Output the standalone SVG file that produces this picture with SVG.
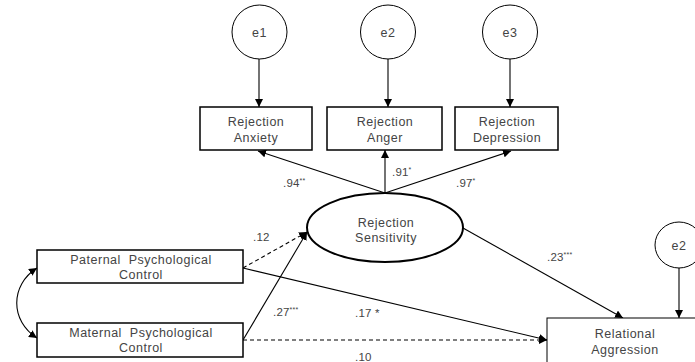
<svg xmlns="http://www.w3.org/2000/svg" width="695" height="362" viewBox="0 0 695 362">
<style>
.t{font-family:"Liberation Sans",Arial,sans-serif;font-size:12.5px;letter-spacing:0.5px;fill:#444;text-anchor:middle}
.l{font-family:"Liberation Sans",Arial,sans-serif;font-size:11.5px;letter-spacing:0.2px;fill:#444}
.s{font-size:7px}
.box{fill:#fff;stroke:#000;stroke-width:1.5}
.c{fill:#fff;stroke:#000;stroke-width:1}
.a{fill:none;stroke:#000;stroke-width:1.1;marker-end:url(#ah)}
.d{stroke-dasharray:4 3}
</style>
<defs>
<marker id="ah" viewBox="0 0 10 10" refX="10" refY="5" markerWidth="8" markerHeight="8" markerUnits="userSpaceOnUse" orient="auto-start-reverse">
<path d="M0,0 L10,5 L0,10 z" fill="#000"/>
</marker>
</defs>
<g id="connectors">
<line class="a" x1="259" y1="59" x2="259" y2="107"/>
<line class="a" x1="388" y1="59" x2="388" y2="107"/>
<line class="a" x1="510" y1="59" x2="510" y2="107"/>
<line class="a" x1="385" y1="193" x2="258" y2="151"/>
<line class="a" x1="385" y1="193" x2="385" y2="150"/>
<line class="a" x1="385" y1="193" x2="511" y2="151"/>
<line class="a" x1="463" y1="228" x2="623" y2="318"/>
<line class="a" x1="679" y1="268" x2="679" y2="318"/>
<line class="a d" x1="243" y1="268" x2="307" y2="232"/>
<line class="a" x1="243" y1="340" x2="307" y2="232"/>
<line class="a" x1="243" y1="268" x2="547" y2="340"/>
<line class="a d" x1="243" y1="340" x2="547" y2="340"/>
<path class="a" style="marker-start:url(#ah)" d="M37,268 C10,285 10,321 37,338"/>
</g>
<g id="e1"><ellipse class="c" cx="259.5" cy="32" rx="27.5" ry="27"/><text class="t" x="259.5" y="37">e1</text></g>
<g id="e2"><ellipse class="c" cx="388" cy="32" rx="27.5" ry="27"/><text class="t" x="388" y="37">e2</text></g>
<g id="e3"><ellipse class="c" cx="510" cy="32" rx="27.5" ry="27"/><text class="t" x="510" y="37">e3</text></g>
<g id="anxiety"><rect class="box" x="200" y="107" width="112" height="43"/><text class="t" x="256" y="126">Rejection</text><text class="t" x="256" y="142">Anxiety</text></g>
<g id="anger"><rect class="box" x="327" y="107" width="115" height="43"/><text class="t" x="385" y="126">Rejection</text><text class="t" x="385" y="142">Anger</text></g>
<g id="depression"><rect class="box" x="455" y="107" width="103" height="43"/><text class="t" x="507" y="126">Rejection</text><text class="t" x="507" y="142">Depression</text></g>
<g id="sensitivity"><ellipse cx="385" cy="227.5" rx="78" ry="34.5" fill="#fff" stroke="#000" stroke-width="2"/><text class="t" x="386" y="227">Rejection</text><text class="t" x="386" y="242">Sensitivity</text></g>
<g id="paternal"><rect class="box" x="37" y="250" width="206" height="33" stroke-width="1.2"/><text class="t" x="141" y="264" xml:space="preserve">Paternal  Psychological</text><text class="t" x="141" y="279">Control</text></g>
<g id="maternal"><rect class="box" x="37" y="323" width="206" height="34" stroke-width="1.2"/><text class="t" x="141" y="337" xml:space="preserve">Maternal  Psychological</text><text class="t" x="141" y="352">Control</text></g>
<g id="aggression"><rect x="547" y="318" width="160" height="45" fill="#fff" stroke="#000" stroke-width="1"/><text class="t" x="625" y="338">Relational</text><text class="t" x="625" y="354">Aggression</text></g>
<g id="e2b"><ellipse class="c" cx="679" cy="245" rx="24" ry="23"/><text class="t" x="679" y="250">e2</text></g>
<g id="labels">
<text class="l" x="283" y="187">.94<tspan class="s" dy="-4">**</tspan></text>
<text class="l" x="392" y="176">.91<tspan class="s" dy="-4">*</tspan></text>
<text class="l" x="456" y="187">.97<tspan class="s" dy="-4">*</tspan></text>
<text class="l" x="253" y="241">.12</text>
<text class="l" x="547" y="261">.23<tspan class="s" dy="-4">***</tspan></text>
<text class="l" x="273" y="316">.27<tspan class="s" dy="-4">***</tspan></text>
<text class="l" x="355" y="317" xml:space="preserve">.17 *</text>
<text class="l" x="355" y="361">.10</text>
</g>
</svg>
